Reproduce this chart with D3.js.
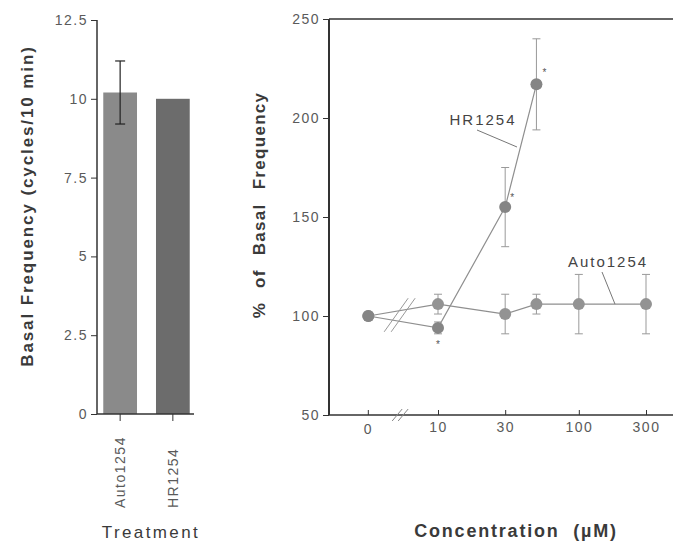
<!DOCTYPE html>
<html>
<head>
<meta charset="utf-8">
<script src="https://cdn.jsdelivr.net/npm/d3@7"></script>
<style>
  body { margin: 0; background: #fff; }
  text { font-family: "Liberation Sans", Arial, sans-serif; }
</style>
</head>
<body>
<svg id="chart" width="673" height="547"></svg>
<script>
// Left panel: basal frequency
const treatments = ["Auto1254", "HR1254"];
const basalMean = [10.2, 10.0];
const basalErr = [1.0, 0];
const basalTicks = [0, 2.5, 5, 7.5, 10, 12.5];

// Right panel: % of basal frequency vs concentration
const concTicks = [0, 10, 30, 100, 300];
const hrConc = [0, 10, 30, 50];
const hrValue = [100, 94, 155, 217];
const hrErr = [0, 3, 20, 23];
const autoConc = [0, 10, 30, 50, 100, 300];
const autoValue = [100, 106, 101, 106, 106, 106];
const autoErr = [0, 5, 10, 5, 15, 15];
const pctTicks = [50, 100, 150, 200, 250];

const svg = d3.select("#chart");
const axisColor = "#333";
const tickColor = "#5a5a5a";
const titleColor = "#3a3a3a";

function styleTicks(sel) {
  sel.attr("fill", tickColor).style("font-size", "14px").style("letter-spacing", "1.5px");
}

// ---------- left panel ----------
const yL = d3.scaleLinear().domain([0, 12.5]).range([414, 20]);
const xL = d3.scaleBand().domain(treatments).range([98, 195]).paddingInner(0.36).paddingOuter(0.1);

const barColors = ["#8a8a8a", "#6c6c6c"];
svg.selectAll(".bar")
  .data(treatments)
  .enter()
  .append("rect")
  .attr("x", (d) => xL(d))
  .attr("width", xL.bandwidth())
  .attr("y", (d, i) => yL(basalMean[i]))
  .attr("height", (d, i) => yL(0) - yL(basalMean[i]))
  .attr("fill", (d, i) => barColors[i]);

// error bar (Auto1254)
treatments.forEach(function (t, i) {
  if (!basalErr[i]) return;
  const cx = xL(t) + xL.bandwidth() / 2;
  const g = svg.append("g").attr("stroke", "#222").attr("stroke-width", 1.2);
  g.append("line").attr("x1", cx).attr("x2", cx)
    .attr("y1", yL(basalMean[i] + basalErr[i])).attr("y2", yL(basalMean[i] - basalErr[i]));
  g.append("line").attr("x1", cx - 5).attr("x2", cx + 5)
    .attr("y1", yL(basalMean[i] + basalErr[i])).attr("y2", yL(basalMean[i] + basalErr[i]));
  g.append("line").attr("x1", cx - 5).attr("x2", cx + 5)
    .attr("y1", yL(basalMean[i] - basalErr[i])).attr("y2", yL(basalMean[i] - basalErr[i]));
});

const yAxisL = d3.axisLeft(yL).tickValues(basalTicks).tickSize(6).tickPadding(3)
  .tickFormat((d) => d);
const gyL = svg.append("g").attr("transform", "translate(97,0)").call(yAxisL);
gyL.select(".domain").attr("stroke", axisColor).attr("stroke-width", 1.5).attr("d", "M0,20V414");
gyL.selectAll(".tick line").attr("stroke", axisColor);
gyL.selectAll("text").call(styleTicks);

const xAxisL = d3.axisBottom(xL).tickSize(7).tickSizeOuter(0);
const gxL = svg.append("g").attr("transform", "translate(0,414)").call(xAxisL);
gxL.select(".domain").attr("stroke", axisColor).attr("stroke-width", 1.5).attr("d", "M97,0H194");
gxL.selectAll(".tick line").attr("stroke", axisColor);
gxL.selectAll("text")
  .call(styleTicks)
  .attr("transform", "rotate(-90)")
  .attr("x", -94)
  .attr("y", 0)
  .attr("dy", "0.35em")
  .style("text-anchor", "start");

svg.append("text")
  .attr("x", -206).attr("y", 33)
  .attr("transform", "rotate(-90)")
  .style("text-anchor", "middle")
  .style("font-size", "17px").style("letter-spacing", "1.9px")
  .attr("font-weight", "bold").attr("fill", titleColor)
  .text("Basal Frequency (cycles/10 min)");

svg.append("text")
  .attr("x", 151).attr("y", 538)
  .style("text-anchor", "middle")
  .style("font-size", "17px").style("letter-spacing", "2.4px").attr("fill", titleColor)
  .text("Treatment");

// ---------- right panel ----------
// log scale; the zero dose sits on a stand-in value left of the axis break
const zeroStandIn = 3.2;
const xLog = d3.scaleLog().domain([10, 300]).range([438, 646]);
const xR = (d) => xLog(d === 0 ? zeroStandIn : d);
const yR = d3.scaleLinear().domain([50, 250]).range([415, 19]);

// frame: top line
svg.append("line").attr("x1", 329).attr("x2", 673).attr("y1", yR(250)).attr("y2", yR(250))
  .attr("stroke", axisColor).attr("stroke-width", 1.5);

const yAxisR = d3.axisLeft(yR).tickValues(pctTicks).tickSize(6).tickPadding(3);
const gyR = svg.append("g").attr("transform", "translate(329,0)").call(yAxisR);
gyR.select(".domain").attr("stroke", axisColor).attr("stroke-width", 2).attr("d", "M0,19V415");
gyR.selectAll(".tick line").attr("stroke", axisColor);
gyR.selectAll("text").call(styleTicks);

const xAxisR = d3.axisBottom(xLog).tickValues(concTicks.filter((d) => d > 0))
  .tickFormat((d) => d).tickSize(-5).tickPadding(7);
const gxR = svg.append("g").attr("transform", "translate(0,415)").call(xAxisR);
gxR.select(".domain").attr("stroke", axisColor).attr("stroke-width", 1.5).attr("d", "M329,0H673");
gxR.selectAll(".tick line").attr("stroke", axisColor);
gxR.selectAll("text").call(styleTicks);
// zero tick
const zt = svg.append("g").attr("transform", `translate(${xR(0)},415)`);
zt.append("line").attr("y1", -5).attr("y2", 0).attr("stroke", axisColor);
zt.append("text").attr("y", 19).style("text-anchor", "middle").call(styleTicks).text("0");

// axis break on x axis
const breakX = (xR(0) + xR(10)) / 2 - 3;
[-3, 3].forEach(function (o) {
  svg.append("line")
    .attr("x1", breakX + o - 5).attr("y1", 421)
    .attr("x2", breakX + o + 5).attr("y2", 409)
    .attr("stroke", "#888").attr("stroke-width", 1);
});

const seriesColor = "#8f8f8f";
const line = d3.line().x((d) => xR(d.c)).y((d) => yR(d.v));

function drawSeries(conc, vals, errs, fill) {
  const pts = conc.map((c, i) => ({ c: c, v: vals[i], e: errs[i] }));
  svg.append("path").datum(pts).attr("d", line)
    .attr("fill", "none").attr("stroke", seriesColor).attr("stroke-width", 1.2);
  const eg = svg.append("g").attr("stroke", "#999").attr("stroke-width", 1);
  pts.filter((d) => d.e > 0).forEach(function (d) {
    const cx = xR(d.c);
    eg.append("line").attr("x1", cx).attr("x2", cx).attr("y1", yR(d.v + d.e)).attr("y2", yR(d.v - d.e));
    eg.append("line").attr("x1", cx - 4).attr("x2", cx + 4).attr("y1", yR(d.v + d.e)).attr("y2", yR(d.v + d.e));
    eg.append("line").attr("x1", cx - 4).attr("x2", cx + 4).attr("y1", yR(d.v - d.e)).attr("y2", yR(d.v - d.e));
  });
  svg.selectAll(null).data(pts).enter().append("circle")
    .attr("cx", (d) => xR(d.c)).attr("cy", (d) => yR(d.v)).attr("r", 6)
    .attr("fill", fill);
}

drawSeries(autoConc, autoValue, autoErr, "#939393");
drawSeries(hrConc, hrValue, hrErr, "#858585");

// break marks across the data lines
[-3, 4].forEach(function (o) {
  svg.append("line")
    .attr("x1", breakX + o - 13).attr("y1", yR(92))
    .attr("x2", breakX + o + 11).attr("y2", yR(109))
    .attr("stroke", "#999").attr("stroke-width", 1);
});

// significance marks
const stars = [
  { c: 10, v: 94, dx: 0, dy: 16 },
  { c: 30, v: 155, dx: 7, dy: -10 },
  { c: 50, v: 217, dx: 8, dy: -12 }
];
svg.selectAll(".star").data(stars).enter().append("text")
  .attr("x", (d) => xR(d.c) + d.dx).attr("y", (d) => yR(d.v) + d.dy + 4)
  .style("text-anchor", "middle").style("font-size", "10px").attr("fill", "#555")
  .text("*");

// series labels with leader lines
svg.append("text").attr("x", 483).attr("y", 125).style("text-anchor", "middle")
  .style("font-size", "15px").style("letter-spacing", "2px").attr("fill", "#444").text("HR1254");
svg.append("line").attr("x1", 477).attr("y1", 130).attr("x2", 517).attr("y2", 147)
  .attr("stroke", "#777").attr("stroke-width", 1);
svg.append("text").attr("x", 608).attr("y", 267).style("text-anchor", "middle")
  .style("font-size", "15px").style("letter-spacing", "2px").attr("fill", "#444").text("Auto1254");
svg.append("line").attr("x1", 602).attr("y1", 272).attr("x2", 615).attr("y2", yR(106))
  .attr("stroke", "#777").attr("stroke-width", 1);

svg.append("text")
  .attr("x", -205).attr("y", 265)
  .attr("transform", "rotate(-90)")
  .style("text-anchor", "middle")
  .style("font-size", "17px").style("letter-spacing", "1.3px").style("word-spacing", "8px")
  .attr("font-weight", "bold").attr("fill", titleColor)
  .text("% of Basal Frequency");

svg.append("text")
  .attr("x", 516).attr("y", 537)
  .style("text-anchor", "middle")
  .style("font-size", "18px").style("letter-spacing", "1.8px")
  .attr("font-weight", "bold").attr("fill", titleColor)
  .style("white-space", "pre")
  .text("Concentration  (\u00b5M)");
</script>
</body>
</html>
